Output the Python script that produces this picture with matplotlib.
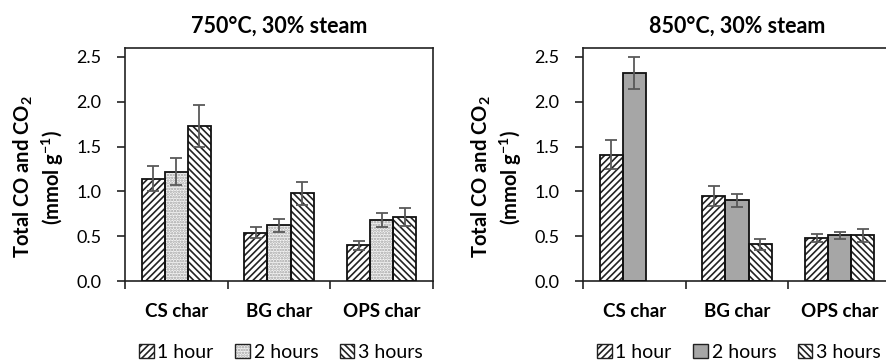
import matplotlib
matplotlib.use("Agg")
import matplotlib.pyplot as plt
from matplotlib.legend_handler import HandlerTuple
import numpy as np

plt.rcParams['font.family'] = ['Lato', 'DejaVu Sans']
plt.rcParams['mathtext.fontset'] = 'custom'
plt.rcParams['mathtext.rm'] = 'Lato'
plt.rcParams['mathtext.bf'] = 'Lato:bold'
plt.rcParams['hatch.linewidth'] = 1.2

categories = ["CS char", "BG char", "OPS char"]
series = ["1 hour", "2 hours", "3 hours"]

titles = ["750°C, 30% steam", "850°C, 30% steam"]

vals_750 = [[1.14, 0.54, 0.40],
            [1.22, 0.62, 0.68],
            [1.73, 0.98, 0.71]]
err_750 = [[0.14, 0.06, 0.05],
           [0.15, 0.07, 0.08],
           [0.23, 0.13, 0.10]]

vals_850 = [[1.41, 0.95, 0.48],
            [2.32, 0.90, 0.51],
            [np.nan, 0.41, 0.51]]
err_850 = [[0.16, 0.11, 0.05],
           [0.18, 0.07, 0.04],
           [np.nan, 0.06, 0.07]]

yticks = [0.0, 0.5, 1.0, 1.5, 2.0, 2.5]

W, H = 887, 362
fig = plt.figure(figsize=(W / 100, H / 100), dpi=100)

def styles(panel):
    s1 = dict(face='white', hatch='/////', hcol='#222222')
    if panel == 0:
        s2 = dict(face='#f6f6f6', hatch='......', hcol='#a0a0a0')
    else:
        s2 = dict(face='#a6a6a6', hatch=None, hcol='#a6a6a6')
    s3 = dict(face='white', hatch='\\' * 5, hcol='#222222')
    return [s1, s2, s3]

panels = [(125, vals_750, err_750), (583, vals_850, err_850)]
bw = 0.225
x = np.arange(len(categories))
for p, (left_px, vals, errs) in enumerate(panels):
    ax = fig.add_axes([left_px / W, (H - 281) / H, 308 / W, 233 / H])
    st = styles(p)
    for i in range(3):
        xs = x + (i - 1) * bw
        v = np.array(vals[i], dtype=float)
        e = np.array(errs[i], dtype=float)
        ax.bar(xs, v, bw, color=st[i]['face'], edgecolor=st[i]['hcol'],
               hatch=st[i]['hatch'], linewidth=0, zorder=2)
        ax.bar(xs, v, bw, fill=False, edgecolor='#111111', linewidth=1.3, zorder=3)
        ax.errorbar(xs, v, yerr=e, fmt='none', ecolor='#595959', elinewidth=1.3,
                    capsize=4.3, capthick=1.3, zorder=4)
    ax.set_xlim(-0.5, 2.5)
    ax.set_ylim(0, 2.6)
    ax.set_yticks(yticks)
    ax.set_yticklabels([f"{t:.1f}" for t in yticks], fontsize=13)
    ax.set_xticks([-0.5, 0.5, 1.5, 2.5])
    ax.set_xticklabels([])
    ax.set_xticks(x, minor=True)
    ax.set_xticklabels(categories, minor=True, fontsize=13.5, fontweight='bold')
    ax.tick_params(axis='x', which='minor', length=0, pad=16)
    ax.tick_params(axis='x', which='major', direction='out', length=6, width=1.2, color='#222222')
    ax.tick_params(axis='y', direction='out', length=6, width=1.2, color='#222222', pad=11)
    for sp in ax.spines.values():
        sp.set_color('#222222')
        sp.set_linewidth(1.2)
    ax.set_title(titles[p], fontsize=15.5, fontweight='bold', pad=11)
    fig.text((left_px - 86) / W, (H - 177) / H,
             "Total CO and CO$_\\mathbf{2}$\n(mmol g$^{\\mathbf{-1}}$)",
             rotation=90, ha='center', va='center', fontsize=14.5, fontweight='bold',
             multialignment='center', linespacing=1.25)
    hs = []
    for i in range(3):
        hp = plt.Rectangle((0, 0), 1, 1, facecolor=st[i]['face'], edgecolor=st[i]['hcol'],
                           hatch=st[i]['hatch'], linewidth=0)
        ho = plt.Rectangle((0, 0), 1, 1, fill=False, edgecolor='#222222', linewidth=1.0)
        hs.append((hp, ho))
    fig.legend(hs, series, loc='center left',
               bbox_to_anchor=((left_px + 14) / W, (H - 352) / H),
               ncol=3, frameon=False, fontsize=14, handlelength=0.75,
               handleheight=0.75, handletextpad=0.2, columnspacing=1.1,
               borderaxespad=0, borderpad=0,
               handler_map={tuple: HandlerTuple(ndivide=1, pad=0)})

fig.savefig("out.png", dpi=100)
